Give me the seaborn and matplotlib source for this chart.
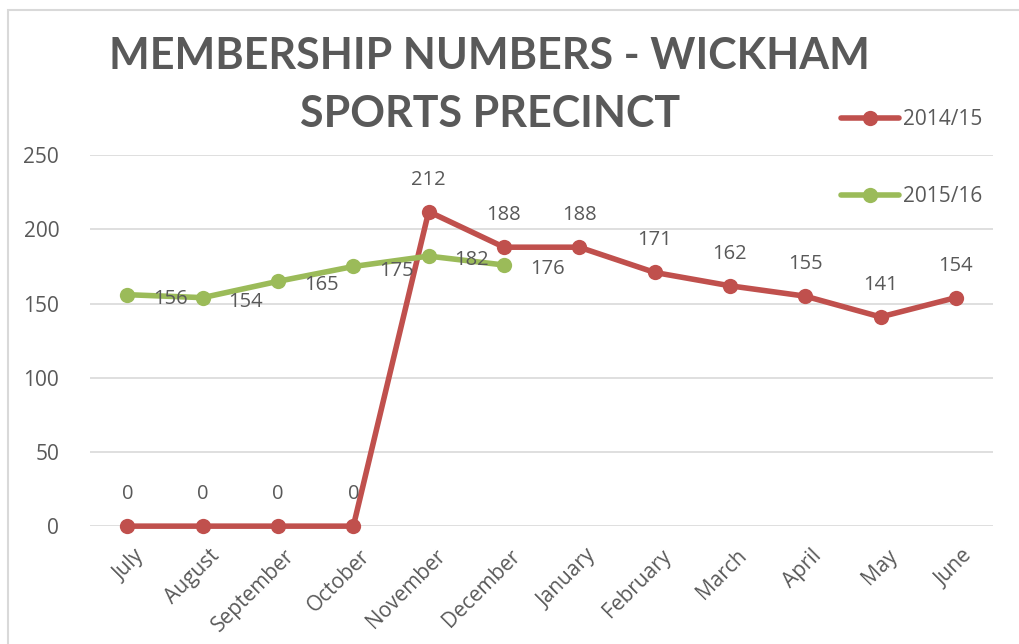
import numpy as np
import pandas as pd
import matplotlib
matplotlib.use("Agg")
import matplotlib.pyplot as plt
import matplotlib.transforms as mtransforms
import seaborn as sns
from matplotlib.patches import Rectangle

months = ["July", "August", "September", "October", "November", "December",
          "January", "February", "March", "April", "May", "June"]
members_1415 = [0, 0, 0, 0, 212, 188, 188, 171, 162, 155, 141, 154]
members_1516 = [156, 154, 165, 175, 182, 176]

RED = "#C0504D"
GREEN = "#9BBB59"
TEXT = "#595959"
GRID = "#D9D9D9"

sns.set_style("white")
plt.rcParams['font.family'] = ['Open Sans', 'DejaVu Sans']

df = pd.concat([
    pd.DataFrame({"idx": np.arange(len(members_1415)), "members": members_1415, "season": "2014/15"}),
    pd.DataFrame({"idx": np.arange(len(members_1516)), "members": members_1516, "season": "2015/16"}),
])

fig = plt.figure(figsize=(10.2, 6.44), dpi=100)
ax = fig.add_axes([0.088, 0.183, 0.886, 0.576])

fig.patches.append(Rectangle((0.008, -0.1), 1.2, 1.084, transform=fig.transFigure,
                             fill=False, edgecolor=GRID, linewidth=1.5))

sns.lineplot(data=df, x="idx", y="members", hue="season",
             palette={"2014/15": RED, "2015/16": GREEN},
             marker="o", markersize=11, markeredgewidth=0, linewidth=4,
             sort=False, ax=ax)

# data labels
for i, v in enumerate(members_1415):
    ax.annotate(str(v), (i, v), xytext=(0, 23), textcoords="offset points",
                ha="center", va="center", fontsize=14.5, color=TEXT)
for i, v in enumerate(members_1516):
    ax.annotate(str(v), (i, v), xytext=(31, -3), textcoords="offset points",
                ha="center", va="center", fontsize=14.5, color=TEXT)

ax.set_xlim(-0.5, len(months) - 0.5)
ax.set_ylim(0, 250)
ax.set_yticks([0, 50, 100, 150, 200, 250])
ax.set_xticks(np.arange(len(months)))
ax.set_xticklabels(months, rotation=45, ha="right", rotation_mode="anchor")
ax.tick_params(axis="both", labelsize=15, colors=TEXT, length=0)
ax.tick_params(axis="y", pad=22)
ax.tick_params(axis="x", pad=14)
shift = mtransforms.ScaledTranslation(0.06, 0, fig.dpi_scale_trans)
for lbl in ax.get_xticklabels():
    lbl.set_transform(lbl.get_transform() + shift)
ax.yaxis.grid(True, color=GRID, linewidth=1.2)
ax.set_axisbelow(True)
for s in ax.spines.values():
    s.set_visible(False)
ax.set_xlabel("")
ax.set_ylabel("")
for ln in ax.lines:
    ln.set_clip_on(False)

fig.text(0.48, 0.868, "MEMBERSHIP NUMBERS - WICKHAM\nSPORTS PRECINCT",
         ha="center", va="center", fontsize=31, fontweight="bold", color=TEXT,
         linespacing=1.55, family=['Lato', 'DejaVu Sans'])

ax.legend(loc="upper left", bbox_to_anchor=(0.806, 0.86), bbox_transform=fig.transFigure,
          frameon=False, fontsize=15, labelspacing=2.7, handlelength=2.8,
          handletextpad=0.2, labelcolor=TEXT)

fig.savefig("out.png", dpi=100)
